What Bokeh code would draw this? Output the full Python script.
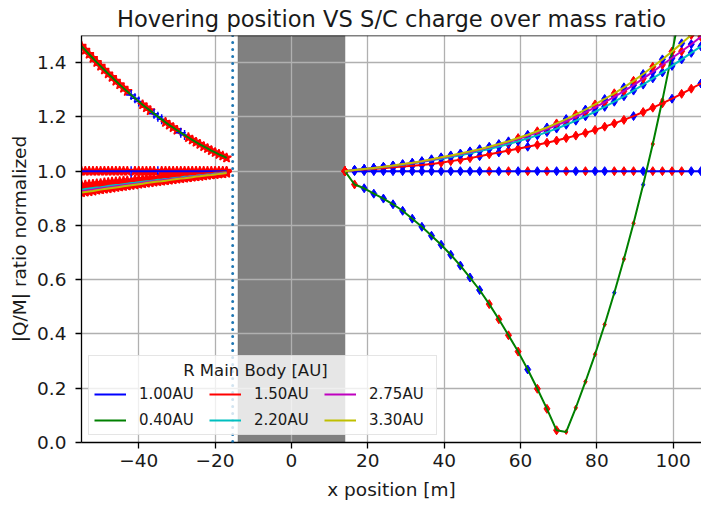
from bokeh.plotting import figure
from bokeh.models import (ColumnDataSource, Span, Legend, LegendItem,
                          Range1d, FixedTicker, BoxAnnotation)
from bokeh.embed import file_html
from bokeh.resources import INLINE

FONT = "DejaVu Sans"
TXT = "#1a1a1a"

title_text = "Hovering position VS S/C charge over mass ratio"
x_label = "x position [m]"
y_label = "|Q/M| ratio normalized"
legend_title = "R Main Body [AU]"

series_names = ["1.00AU", "0.40AU", "1.50AU", "2.20AU", "2.75AU", "3.30AU"]
series_colors = ["#0000ff", "#008000", "#ff0000", "#00bfbf", "#bf00bf", "#bfbf00"]

x_min, x_max = -55, 107.4
y_min, y_max = 0.0, 1.5
x_ticks = [-40, -20, 0, 20, 40, 60, 80, 100]
x_tick_labels = ["\u221240", "\u221220", "0", "20", "40", "60", "80", "100"]
y_ticks = [0.0, 0.2, 0.4, 0.6, 0.8, 1.0, 1.2, 1.4]
y_tick_labels = ["0.0", "0.2", "0.4", "0.6", "0.8", "1.0", "1.2", "1.4"]

body_edges = [-14, 14]
dotted_x = -15.4

# ---- left side (x < 0) ----
x_left = [-55, -54, -53, -52, -51, -50, -49, -48, -47, -46, -45, -44, -43, -42, -41,
          -40, -39, -38, -37, -36, -35, -34, -33, -32, -31, -30, -29, -28, -27, -26,
          -25, -24, -23, -22, -21, -20, -19, -18, -17]
y_left = {
    "1.00AU": [1.0, 1.0, 1.0, 1.0, 1.0, 1.0, 1.0, 1.0, 1.0, 1.0, 1.0, 1.0, 1.0, 1.0, 1.0,
               1.0, 1.0, 1.0, 1.0, 1.0, 1.0, 1.0, 1.0, 1.0, 1.0, 1.0, 1.0, 1.0, 1.0, 1.0,
               1.0, 1.0, 1.0, 1.0, 1.0, 1.0, 1.0, 1.0, 1.0],
    "0.40AU": [1.461, 1.446, 1.431, 1.416, 1.401, 1.387, 1.373, 1.359, 1.346, 1.332,
               1.319, 1.306, 1.294, 1.281, 1.269, 1.257, 1.245, 1.234, 1.223, 1.212,
               1.201, 1.191, 1.180, 1.170, 1.161, 1.151, 1.142, 1.133, 1.124, 1.115,
               1.107, 1.099, 1.091, 1.084, 1.076, 1.069, 1.062, 1.056, 1.049],
    "1.50AU": [0.948, 0.949, 0.951, 0.952, 0.954, 0.955, 0.957, 0.958, 0.960, 0.961,
               0.962, 0.964, 0.965, 0.966, 0.968, 0.969, 0.970, 0.972, 0.973, 0.974,
               0.976, 0.977, 0.978, 0.979, 0.981, 0.982, 0.983, 0.984, 0.986, 0.987,
               0.988, 0.989, 0.990, 0.991, 0.993, 0.994, 0.995, 0.996, 0.997],
    "2.20AU": [0.932, 0.934, 0.936, 0.938, 0.940, 0.941, 0.943, 0.945, 0.947, 0.949,
               0.950, 0.952, 0.954, 0.956, 0.957, 0.959, 0.961, 0.963, 0.964, 0.966,
               0.968, 0.969, 0.971, 0.972, 0.974, 0.976, 0.977, 0.979, 0.980, 0.982,
               0.983, 0.985, 0.986, 0.988, 0.989, 0.991, 0.992, 0.994, 0.995],
    "2.75AU": [0.926, 0.928, 0.930, 0.932, 0.934, 0.936, 0.938, 0.940, 0.942, 0.944,
               0.946, 0.948, 0.950, 0.952, 0.953, 0.955, 0.957, 0.959, 0.961, 0.963,
               0.964, 0.966, 0.968, 0.970, 0.971, 0.973, 0.975, 0.976, 0.978, 0.980,
               0.981, 0.983, 0.985, 0.986, 0.988, 0.989, 0.991, 0.992, 0.994],
    "3.30AU": [0.921, 0.923, 0.925, 0.927, 0.930, 0.932, 0.934, 0.936, 0.938, 0.940,
               0.942, 0.944, 0.946, 0.948, 0.950, 0.952, 0.954, 0.956, 0.958, 0.960,
               0.962, 0.963, 0.965, 0.967, 0.969, 0.971, 0.973, 0.974, 0.976, 0.978,
               0.980, 0.981, 0.983, 0.985, 0.986, 0.988, 0.990, 0.991, 0.993],
}
# marker flag per point: R = red star, B = blue cross
flags_left = {
    "1.00AU": "RRRRRRRRRRRRRBRRRRRRBRRRRRRRRRRRRRRRRRR",
    "0.40AU": "RRRRRRRRRRRRRBBBRRRBBBRRRRBBRRRRRRRRRRR",
    "1.50AU": "RRRRRRRRRRRRRBRRRRRRBRRRRRRRRRRRRRRRRRR",
    "2.20AU": "RRRRRRRRRRRRRRRRRRRRRRRRRRRRRRRRRRRRRRR",
    "2.75AU": "RRRRRRRRRRRRRRRRRRRRRRRRRRRRRRRRRRRRRRR",
    "3.30AU": "RRRRRRRRRRRRRRRRRRRRRRRRRRRRRRRRRRRRRRR",
}

# ---- right side (x > 0) ----
x_right = [14.0, 16.52, 19.04, 21.56, 24.08, 26.6, 29.12, 31.64, 34.16, 36.68, 39.2,
           41.72, 44.24, 46.76, 49.28, 51.8, 54.32, 56.84, 59.36, 61.88, 64.4, 66.92,
           69.44, 71.96, 74.48, 77.0, 79.52, 82.04, 84.56, 87.08, 89.6, 92.12, 94.64,
           97.16, 99.68, 102.2, 104.72, 107.24, 109.76]
y_right = {
    "1.00AU": [1.0, 1.0, 1.0, 1.0, 1.0, 1.0, 1.0, 1.0, 1.0, 1.0, 1.0, 1.0, 1.0, 1.0,
               1.0, 1.0, 1.0, 1.0, 1.0, 1.0, 1.0, 1.0, 1.0, 1.0, 1.0, 1.0, 1.0, 1.0,
               1.0, 1.0, 1.0, 1.0, 1.0, 1.0, 1.0, 1.0, 1.0, 1.0, 1.0],
    "0.40AU": [1.000, 0.951, 0.937, 0.917, 0.899, 0.878, 0.854, 0.825, 0.795, 0.762,
               0.729, 0.692, 0.652, 0.608, 0.562, 0.510, 0.454, 0.395, 0.335, 0.269,
               0.198, 0.124, 0.045, 0.039, 0.128, 0.224, 0.325, 0.435, 0.552, 0.676,
               0.808, 0.950, 1.100, 1.262, 1.435, 1.620],
    "1.50AU": [1.000, 1.003, 1.006, 1.008, 1.011, 1.014, 1.017, 1.020, 1.023, 1.026,
               1.031, 1.037, 1.042, 1.048, 1.055, 1.062, 1.069, 1.076, 1.083, 1.090,
               1.097, 1.105, 1.113, 1.122, 1.131, 1.141, 1.152, 1.164, 1.176, 1.189,
               1.203, 1.218, 1.234, 1.250, 1.267, 1.285, 1.304, 1.323, 1.343],
    "2.20AU": [1.000, 1.004, 1.008, 1.011, 1.015, 1.019, 1.024, 1.029, 1.034, 1.040,
               1.046, 1.052, 1.059, 1.066, 1.074, 1.082, 1.091, 1.100, 1.110, 1.121,
               1.132, 1.144, 1.157, 1.171, 1.186, 1.202, 1.219, 1.237, 1.256, 1.276,
               1.297, 1.319, 1.342, 1.364, 1.388, 1.412, 1.436, 1.460, 1.485],
    "2.75AU": [1.000, 1.004, 1.008, 1.012, 1.016, 1.020, 1.025, 1.030, 1.036, 1.042,
               1.049, 1.056, 1.063, 1.071, 1.079, 1.088, 1.097, 1.107, 1.118, 1.130,
               1.142, 1.155, 1.169, 1.184, 1.200, 1.217, 1.235, 1.254, 1.274, 1.295,
               1.317, 1.341, 1.366, 1.392, 1.417, 1.442, 1.468, 1.495, 1.523],
    "3.30AU": [1.000, 1.004, 1.008, 1.012, 1.016, 1.021, 1.026, 1.031, 1.037, 1.044,
               1.051, 1.058, 1.065, 1.073, 1.081, 1.090, 1.100, 1.110, 1.122, 1.134,
               1.147, 1.161, 1.176, 1.192, 1.209, 1.227, 1.246, 1.266, 1.287, 1.309,
               1.333, 1.358, 1.385, 1.412, 1.441, 1.471, 1.502, 1.535, 1.570],
}
# marker flag per point: B/R = blue/red diamond, b/r = small blue/red diamond
flags_right = {
    "1.00AU": "RBBBBBBBBBBBBBBRBRBRBRBRBRBBRRRBRRRRBB",
    "0.40AU": "RRBBBBBBBBBBBBBRRRRBRRRrrrrrbrrbrrrr",
    "1.50AU": "RBBBBBBBBBRRRRBRBRRBRRRRRRRRRRBRRRBRRB",
    "2.20AU": "RBBBBBBBBBBBBBBBBBBBBBBBBBBBBBBBBBBBBB",
    "2.75AU": "RBBBBBBBBBBBBBBBBRBRBRBRBRBRBRBRBRBRBR",
    "3.30AU": "RBBBBBBBBBBBBBBBBBRBRBRBRBRBRBRBRBRBRB",
}

MARK = {
    "R": ("#ff0000", 9), "B": ("#0000ff", 9),
    "r": ("#ff0000", 5), "b": ("#0000ff", 5),
}

p = figure(width=701, height=506, output_backend="svg", toolbar_location=None,
           x_range=Range1d(x_min, x_max), y_range=Range1d(y_min, y_max),
           min_border_left=81, min_border_right=0, min_border_top=34,
           min_border_bottom=64, background_fill_color="white",
           border_fill_color="white")
p.outline_line_color = None

# grey body region below the grid
p.add_layout(BoxAnnotation(left=body_edges[0], right=body_edges[1],
                           fill_color="#808080", fill_alpha=1.0,
                           line_color="#606060", line_width=1.5, level="image"))

p.add_layout(Span(location=dotted_x, dimension="height", line_color="#1f77b4",
                  line_width=3, line_dash="0 7", line_cap="round"))

# markers
for name in series_names:
    fl = flags_left[name]
    cols = [("#ff0000" if f == "R" else "#0000ff") for f in fl]
    mk = [("star" if f == "R" else "cross") for f in fl]
    src = ColumnDataSource(dict(x=x_left, y=y_left[name], c=cols, m=mk))
    p.scatter("x", "y", source=src, marker="m", size=10, fill_color="c",
              line_color="c", line_width=1.5)

for name in series_names:
    ys = y_right[name]
    fl = flags_right[name]
    n = min(len(fl), len(ys))
    src = ColumnDataSource(dict(x=x_right[:n], y=ys[:n],
                                c=[MARK[f][0] for f in fl[:n]],
                                s=[MARK[f][1] for f in fl[:n]]))
    p.scatter("x", "y", source=src, marker="diamond", size="s", fill_color="c",
              line_color="c", line_width=1)

# lines
line_r = {}
for name, col in zip(series_names, series_colors):
    r1 = p.line(x_left, y_left[name], line_color=col, line_width=2)
    ys = y_right[name]
    p.line(x_right[:len(ys)], ys, line_color=col, line_width=2)
    line_r[name] = r1

# top spine of the axes box
p.add_layout(Span(location=y_max, dimension="width", line_color="black",
                  line_width=1.3, level="overlay"))

# axes
for ax in (p.xaxis[0], p.yaxis[0]):
    ax.axis_line_color = "black"
    ax.axis_line_width = 1.3
    ax.major_tick_line_color = "black"
    ax.major_tick_line_width = 1.3
    ax.major_tick_out = 6
    ax.major_tick_in = 0
    ax.minor_tick_line_color = None
    ax.major_label_text_font = FONT
    ax.major_label_text_font_size = "18.5px"
    ax.major_label_text_color = TXT
    ax.axis_label_text_font = FONT
    ax.axis_label_text_font_size = "18.5px"
    ax.axis_label_text_font_style = "normal"
    ax.axis_label_text_color = TXT

p.xaxis.ticker = FixedTicker(ticks=x_ticks)
p.xaxis.major_label_overrides = dict(zip(x_ticks, x_tick_labels))
p.yaxis.ticker = FixedTicker(ticks=y_ticks)
p.yaxis.major_label_overrides = dict(zip(y_ticks, y_tick_labels))
p.xaxis.axis_label = x_label
p.yaxis.axis_label = y_label
p.xaxis.major_label_standoff = 5
p.yaxis.major_label_standoff = 9
p.xaxis.axis_label_standoff = 9
p.yaxis.axis_label_standoff = 4

p.grid.grid_line_color = "#b0b0b0"
p.grid.grid_line_width = 1.3
p.xgrid.ticker = FixedTicker(ticks=x_ticks)
p.ygrid.ticker = FixedTicker(ticks=y_ticks)

p.title.text = title_text
p.title.text_font = FONT
p.title.text_font_size = "22.6px"
p.title.text_font_style = "normal"
p.title.text_color = TXT
p.title.align = "center"
p.title.standoff = 7

items = [LegendItem(label=n, renderers=[line_r[n]]) for n in series_names]
legend = Legend(items=items, location="bottom_left", orientation="vertical",
                nrows=2, title="\u00a0" * 17 + legend_title,
                title_text_font=FONT, title_text_font_size="16.5px",
                title_text_font_style="normal", title_text_color=TXT,
                title_standoff=5,
                label_text_font=FONT, label_text_font_size="15px",
                label_text_color=TXT,
                glyph_width=32, glyph_height=14, label_standoff=13,
                label_height=14, label_width=62, spacing=8, padding=5, margin=7,
                background_fill_color="white", background_fill_alpha=0.8,
                border_line_color="#cccccc", border_line_width=1.3)
p.add_layout(legend)

open("out.html", "w").write(file_html(p, INLINE))
